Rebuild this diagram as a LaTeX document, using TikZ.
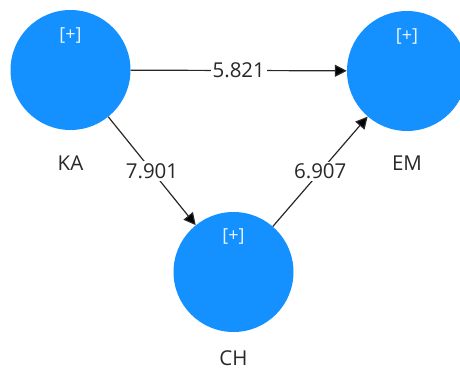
\documentclass[tikz,border=0pt]{standalone}
\usepackage{fontspec}
\setmainfont{Open Sans}
\usetikzlibrary{arrows.meta}
\definecolor{latentblue}{RGB}{20,145,255}
\definecolor{pathgray}{RGB}{40,40,40}
\definecolor{labelgray}{RGB}{40,40,40}
\begin{document}
\begin{tikzpicture}[x=1pt,y=-1pt,
  latent/.style={circle,fill=latentblue,draw=none,minimum size=120pt,inner sep=0pt},
  plusmark/.style={text=white!90!latentblue,font=\fontsize{18}{20}\selectfont},
  conname/.style={text=labelgray,font=\fontsize{20.5}{22}\selectfont},
  coef/.style={fill=white,text=labelgray,inner sep=2pt,font=\fontsize{20.5}{22}\selectfont},
  pathline/.style={draw=pathgray,line width=1.2pt,-{Triangle[length=12pt,width=12pt,fill=black]}}]
\useasboundingbox (0,0) rectangle (460,372);
% constructs
\node[latent] (KA) at (70.5,70) {};
\node[latent] (EM) at (407,71) {};
\node[latent] (CH) at (233.5,272) {};
% indicator markers
\node[plusmark] (KAp) at (70.5,35) {[+]};
\node[plusmark] (EMp) at (407,36) {[+]};
\node[plusmark] (CHp) at (233.5,236) {[+]};
% construct names
\node[conname] (KAn) at (70.5,163) {KA};
\node[conname] (EMn) at (407,163) {EM};
\node[conname] (CHn) at (233.5,358) {CH};
% structural paths with coefficients
\draw[pathline] (KA) -- node[coef] {5.821} (EM);
\draw[pathline] (KA) -- node[coef] {7.901} (CH);
\draw[pathline] (CH) -- node[coef] {6.907} (EM);
\end{tikzpicture}
\end{document}
